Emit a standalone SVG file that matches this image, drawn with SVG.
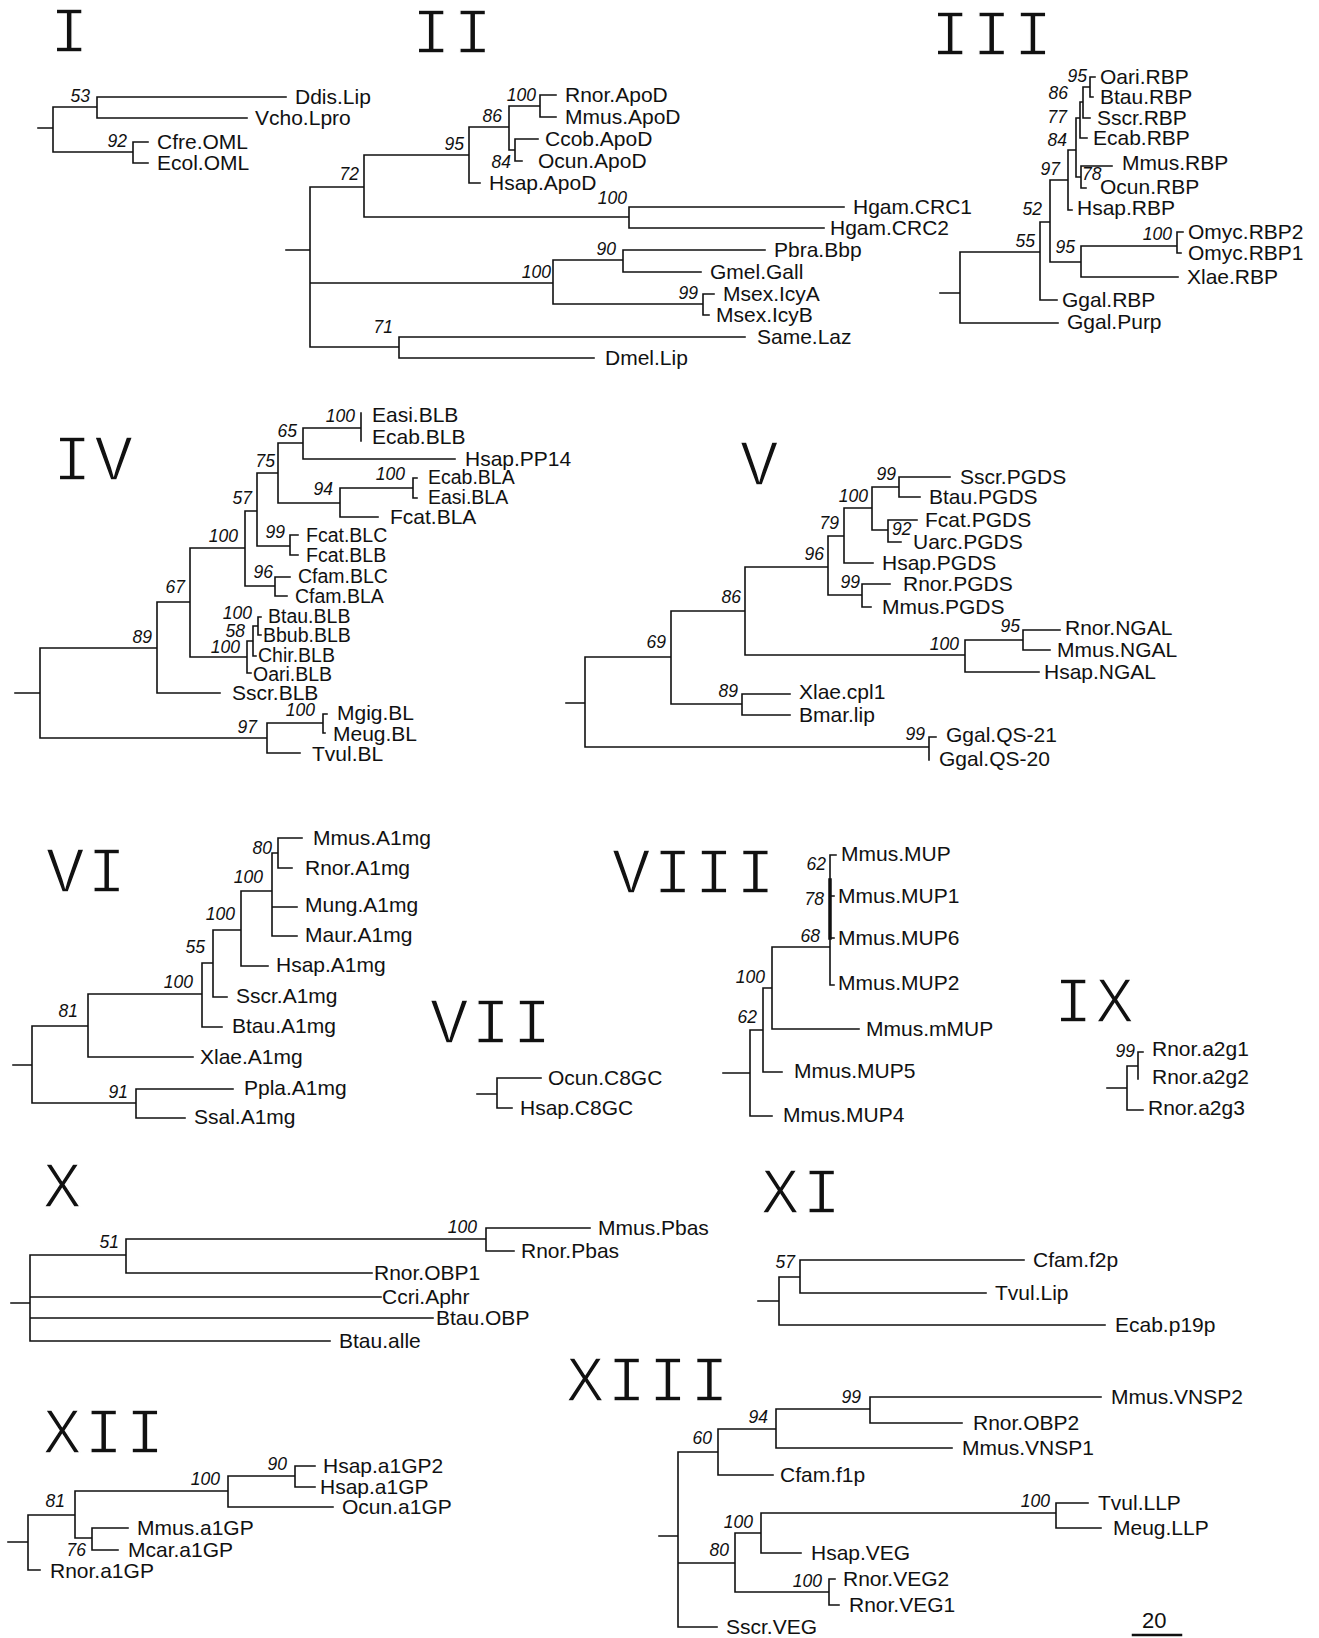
<svg xmlns="http://www.w3.org/2000/svg" width="1319" height="1638" viewBox="0 0 1319 1638">
<style>
.e{fill:none;stroke:#111;stroke-width:1.6;stroke-linecap:square}
.t{font-family:"Liberation Sans",Arial,sans-serif;font-size:21px;fill:#111}
.s{font-size:19.5px}
.b{font-family:"Liberation Sans",Arial,sans-serif;font-size:17.5px;font-style:italic;fill:#111;text-anchor:end}
.n{font-family:"Liberation Mono","Courier New",monospace;font-size:64px;fill:#111;letter-spacing:3px;stroke:#fff;stroke-width:1.4}
</style>
<rect width="1319" height="1638" fill="#fff"/>

<!-- Panel I -->
<g id="panel-I">
<text class="n" x="50" y="52">I</text>
<g id="I-connectors"><path class="e" d="M38 128H53M53 107V152M53 107H97M97 97V118M97 97H286M97 118H247M53 152H133M133 142V163M133 142H148M133 163H148"/></g>
<g id="I-Ddis.Lip"><text class="t" x="295" y="104">Ddis.Lip</text></g>
<g id="I-Vcho.Lpro"><text class="t" x="255" y="125">Vcho.Lpro</text></g>
<g id="I-Cfre.OML"><text class="t" x="157" y="149">Cfre.OML</text></g>
<g id="I-Ecol.OML"><text class="t" x="157" y="170">Ecol.OML</text></g>
<g id="I-support"><text class="b" x="90" y="102">53</text><text class="b" x="127" y="147">92</text></g>
</g>

<!-- Panel II -->
<g id="panel-II">
<text class="n" x="412" y="53">II</text>
<g id="II-connectors"><path class="e" d="M286 250H310M310 187V347M310 187H364M364 155V217M364 155H469M469 127V183M469 127H509M509 106V150M509 106H540M540 95V117M540 95H556M540 117H556M509 150H515M515 139V161M515 139H538M515 161H522M469 183H480M364 217H629M629 207V228M629 207H844M629 228H824M310 283H553M553 260V304M553 260H623M623 250V272M623 250H765M623 272H701M553 304H703M703 294V315M703 294H714M703 315H709M310 347H399M399 337V358M399 337H745M399 358H594"/></g>
<g id="II-Rnor.ApoD"><text class="t" x="565" y="102">Rnor.ApoD</text></g>
<g id="II-Mmus.ApoD"><text class="t" x="565" y="124">Mmus.ApoD</text></g>
<g id="II-Ccob.ApoD"><text class="t" x="545" y="146">Ccob.ApoD</text></g>
<g id="II-Ocun.ApoD"><text class="t" x="538" y="168">Ocun.ApoD</text></g>
<g id="II-Hsap.ApoD"><text class="t" x="489" y="190">Hsap.ApoD</text></g>
<g id="II-Hgam.CRC1"><text class="t" x="853" y="214">Hgam.CRC1</text></g>
<g id="II-Hgam.CRC2"><text class="t" x="830" y="235">Hgam.CRC2</text></g>
<g id="II-Pbra.Bbp"><text class="t" x="774" y="257">Pbra.Bbp</text></g>
<g id="II-Gmel.Gall"><text class="t" x="710" y="279">Gmel.Gall</text></g>
<g id="II-Msex.IcyA"><text class="t" x="723" y="301">Msex.IcyA</text></g>
<g id="II-Msex.IcyB"><text class="t" x="716" y="322">Msex.IcyB</text></g>
<g id="II-Same.Laz"><text class="t" x="757" y="344">Same.Laz</text></g>
<g id="II-Dmel.Lip"><text class="t" x="605" y="365">Dmel.Lip</text></g>
<g id="II-support">
<text class="b" x="536" y="101">100</text><text class="b" x="502" y="122">86</text><text class="b" x="464" y="150">95</text><text class="b" x="511" y="168">84</text><text class="b" x="359" y="180">72</text><text class="b" x="627" y="204">100</text><text class="b" x="616" y="255">90</text><text class="b" x="551" y="278">100</text><text class="b" x="698" y="299">99</text><text class="b" x="393" y="333">71</text>
</g>
</g>

<!-- Panel III -->
<g id="panel-III">
<text class="n" x="931" y="55">III</text>
<g id="III-connectors"><path class="e" d="M940 293H960M960 252V323M960 323H1058M960 252H1040M1040 222V300M1040 300H1057M1040 222H1050M1050 180V262M1050 180H1068M1068 150V210M1068 210H1072M1068 150H1076M1076 118V177M1076 177H1081M1081 166V188M1081 166H1112M1081 188H1086M1076 118H1080M1080 102V138M1080 138H1087M1080 102H1083M1083 87V118M1083 118H1090M1083 87H1090M1090 77V97M1090 77H1095M1090 97H1093M1050 262H1081M1081 246V277M1081 246H1177M1177 232V253M1177 232H1183M1177 253H1181M1081 277H1178"/></g>
<g id="III-Oari.RBP"><text class="t" x="1100" y="84">Oari.RBP</text></g>
<g id="III-Btau.RBP"><text class="t" x="1100" y="104">Btau.RBP</text></g>
<g id="III-Sscr.RBP"><text class="t" x="1097" y="125">Sscr.RBP</text></g>
<g id="III-Ecab.RBP"><text class="t" x="1093" y="145">Ecab.RBP</text></g>
<g id="III-Mmus.RBP"><text class="t" x="1122" y="170">Mmus.RBP</text></g>
<g id="III-Ocun.RBP"><text class="t" x="1100" y="194">Ocun.RBP</text></g>
<g id="III-Hsap.RBP"><text class="t" x="1077" y="215">Hsap.RBP</text></g>
<g id="III-Omyc.RBP2"><text class="t" x="1188" y="239">Omyc.RBP2</text></g>
<g id="III-Omyc.RBP1"><text class="t" x="1188" y="260">Omyc.RBP1</text></g>
<g id="III-Xlae.RBP"><text class="t" x="1187" y="284">Xlae.RBP</text></g>
<g id="III-Ggal.RBP"><text class="t" x="1062" y="307">Ggal.RBP</text></g>
<g id="III-Ggal.Purp"><text class="t" x="1067" y="329">Ggal.Purp</text></g>
<g id="III-support">
<text class="b" x="1087" y="82">95</text><text class="b" x="1068" y="99">86</text><text class="b" x="1067" y="123">77</text><text class="b" x="1067" y="146">84</text><text class="b" x="1060" y="175">97</text><text class="b" x="1082" y="180" style="text-anchor:start">78</text><text class="b" x="1042" y="215">52</text><text class="b" x="1035" y="247">55</text><text class="b" x="1075" y="253">95</text><text class="b" x="1172" y="240">100</text>
</g>
</g>

<!-- Panel IV -->
<g id="panel-IV">
<text class="n" x="53" y="480">IV</text>
<g id="IV-connectors"><path class="e" d="M15 693H40M40 648V738M40 648H157M157 602V693M157 693H220M157 602H190M190 548V657M190 548H245M245 511V586M245 511H257M257 473V546M257 473H278M278 443V503M278 443H303M303 428V459M303 428H361M361 413V441M303 459H455M278 503H340M340 488V517M340 488H413M413 478V498M413 478H417M413 498H417M340 517H378M257 546H290M290 535V555M290 535H298M290 555H298M245 586H275M275 577V596M275 577H290M275 596H287M190 657H247M247 641V673M247 673H251M247 641H253M253 626V656M253 656H256M253 626H258M258 617V635M258 617H261M258 635H261M40 738H267M267 723V753M267 723H323M323 714V733M323 714H327M323 733H325M267 753H300"/></g>
<g id="IV-Easi.BLB"><text class="t" x="372" y="422">Easi.BLB</text></g>
<g id="IV-Ecab.BLB"><text class="t" x="372" y="444">Ecab.BLB</text></g>
<g id="IV-Hsap.PP14"><text class="t" x="465" y="466">Hsap.PP14</text></g>
<g id="IV-Ecab.BLA"><text class="t s" x="428" y="484">Ecab.BLA</text></g>
<g id="IV-Easi.BLA"><text class="t s" x="428" y="504">Easi.BLA</text></g>
<g id="IV-Fcat.BLA"><text class="t" x="390" y="524">Fcat.BLA</text></g>
<g id="IV-Fcat.BLC"><text class="t s" x="306" y="542">Fcat.BLC</text></g>
<g id="IV-Fcat.BLB"><text class="t s" x="306" y="562">Fcat.BLB</text></g>
<g id="IV-Cfam.BLC"><text class="t s" x="298" y="583">Cfam.BLC</text></g>
<g id="IV-Cfam.BLA"><text class="t s" x="295" y="603">Cfam.BLA</text></g>
<g id="IV-Btau.BLB"><text class="t s" x="268" y="623">Btau.BLB</text></g>
<g id="IV-Bbub.BLB"><text class="t s" x="263" y="642">Bbub.BLB</text></g>
<g id="IV-Chir.BLB"><text class="t s" x="258" y="662">Chir.BLB</text></g>
<g id="IV-Oari.BLB"><text class="t s" x="253" y="681">Oari.BLB</text></g>
<g id="IV-Sscr.BLB"><text class="t" x="232" y="700">Sscr.BLB</text></g>
<g id="IV-Mgig.BL"><text class="t" x="337" y="720">Mgig.BL</text></g>
<g id="IV-Meug.BL"><text class="t" x="333" y="741">Meug.BL</text></g>
<g id="IV-Tvul.BL"><text class="t" x="312" y="761">Tvul.BL</text></g>
<g id="IV-support">
<text class="b" x="355" y="422">100</text><text class="b" x="297" y="437">65</text><text class="b" x="275" y="467">75</text><text class="b" x="405" y="480">100</text><text class="b" x="333" y="495">94</text><text class="b" x="252" y="504">57</text><text class="b" x="238" y="542">100</text><text class="b" x="285" y="538">99</text><text class="b" x="273" y="578">96</text><text class="b" x="185" y="593">67</text><text class="b" x="252" y="619">100</text><text class="b" x="245" y="637">58</text><text class="b" x="240" y="653">100</text><text class="b" x="152" y="643">89</text><text class="b" x="315" y="716">100</text><text class="b" x="257" y="733">97</text>
</g>
</g>

<!-- Panel V -->
<g id="panel-V">
<text class="n" x="740" y="485">V</text>
<g id="V-connectors"><path class="e" d="M566 703H585M585 657V747M585 657H671M671 611V704M671 611H745M745 567V655M745 567H828M828 536V595M828 536H844M844 508V563M844 508H872M872 487V530M872 487H899M899 477V497M899 477H950M899 497H920M872 530H888M888 520V542M888 520H917M888 542H901M844 563H873M828 595H862M862 584V607M862 584H890M862 607H871M745 655H965M965 640V672M965 640H1023M1023 630V650M1023 630H1060M1023 650H1050M965 672H1039M671 704H742M742 694V715M742 694H790M742 715H790M585 747H929M929 737V760M929 737H936"/></g>
<g id="V-Sscr.PGDS"><text class="t" x="960" y="484">Sscr.PGDS</text></g>
<g id="V-Btau.PGDS"><text class="t" x="929" y="504">Btau.PGDS</text></g>
<g id="V-Fcat.PGDS"><text class="t" x="925" y="527">Fcat.PGDS</text></g>
<g id="V-Uarc.PGDS"><text class="t" x="913" y="549">Uarc.PGDS</text></g>
<g id="V-Hsap.PGDS"><text class="t" x="882" y="570">Hsap.PGDS</text></g>
<g id="V-Rnor.PGDS"><text class="t" x="903" y="591">Rnor.PGDS</text></g>
<g id="V-Mmus.PGDS"><text class="t" x="882" y="614">Mmus.PGDS</text></g>
<g id="V-Rnor.NGAL"><text class="t" x="1065" y="635">Rnor.NGAL</text></g>
<g id="V-Mmus.NGAL"><text class="t" x="1057" y="657">Mmus.NGAL</text></g>
<g id="V-Hsap.NGAL"><text class="t" x="1044" y="679">Hsap.NGAL</text></g>
<g id="V-Xlae.cpl1"><text class="t" x="799" y="699">Xlae.cpl1</text></g>
<g id="V-Bmar.lip"><text class="t" x="799" y="722">Bmar.lip</text></g>
<g id="V-Ggal.QS-21"><text class="t" x="946" y="742">Ggal.QS-21</text></g>
<g id="V-Ggal.QS-20"><text class="t" x="939" y="766">Ggal.QS-20</text></g>
<g id="V-support">
<text class="b" x="896" y="480">99</text><text class="b" x="868" y="502">100</text><text class="b" x="892" y="535" style="text-anchor:start">92</text><text class="b" x="839" y="529">79</text><text class="b" x="824" y="560">96</text><text class="b" x="860" y="588">99</text><text class="b" x="741" y="603">86</text><text class="b" x="959" y="650">100</text><text class="b" x="1020" y="632">95</text><text class="b" x="666" y="648">69</text><text class="b" x="738" y="697">89</text><text class="b" x="925" y="740">99</text>
</g>
</g>

<!-- Panel VI -->
<g id="panel-VI">
<text class="n" x="46" y="892">VI</text>
<g id="VI-connectors"><path class="e" d="M13 1065H32M32 1026V1103M32 1026H88M88 994V1057M88 1057H193M88 994H202M202 963V1027M202 1027H222M202 963H213M213 930V997M213 997H227M213 930H241M241 891V966M241 966H268M241 891H272M272 853V936M272 907H297M272 936H297M272 853H278M278 838V868M278 838H302M278 868H292M32 1103H136M136 1089V1118M136 1089H233M136 1118H185"/></g>
<g id="VI-Mmus.A1mg"><text class="t" x="313" y="845">Mmus.A1mg</text></g>
<g id="VI-Rnor.A1mg"><text class="t" x="305" y="875">Rnor.A1mg</text></g>
<g id="VI-Mung.A1mg"><text class="t" x="305" y="912">Mung.A1mg</text></g>
<g id="VI-Maur.A1mg"><text class="t" x="305" y="942">Maur.A1mg</text></g>
<g id="VI-Hsap.A1mg"><text class="t" x="276" y="972">Hsap.A1mg</text></g>
<g id="VI-Sscr.A1mg"><text class="t" x="236" y="1003">Sscr.A1mg</text></g>
<g id="VI-Btau.A1mg"><text class="t" x="232" y="1033">Btau.A1mg</text></g>
<g id="VI-Xlae.A1mg"><text class="t" x="200" y="1064">Xlae.A1mg</text></g>
<g id="VI-Ppla.A1mg"><text class="t" x="244" y="1095">Ppla.A1mg</text></g>
<g id="VI-Ssal.A1mg"><text class="t" x="194" y="1124">Ssal.A1mg</text></g>
<g id="VI-support">
<text class="b" x="272" y="854">80</text><text class="b" x="263" y="883">100</text><text class="b" x="235" y="920">100</text><text class="b" x="205" y="953">55</text><text class="b" x="193" y="988">100</text><text class="b" x="78" y="1017">81</text><text class="b" x="128" y="1098">91</text>
</g>
</g>

<!-- Panel VII -->
<g id="panel-VII">
<text class="n" x="430" y="1043">VII</text>
<g id="VII-connectors"><path class="e" d="M477 1094H497M497 1078V1108M497 1078H541M497 1108H512"/></g>
<g id="VII-Ocun.C8GC"><text class="t" x="548" y="1085">Ocun.C8GC</text></g>
<g id="VII-Hsap.C8GC"><text class="t" x="520" y="1115">Hsap.C8GC</text></g>
</g>

<!-- Panel VIII -->
<g id="panel-VIII">
<text class="n" x="612" y="893">VIII</text>
<g id="VIII-connectors"><path class="e" d="M723 1073H750M750 1030V1116M750 1116H772M750 1030H763M763 988V1072M763 1072H782M763 988H772M772 947V1029M772 1029H859M772 947H830M830 855V985M830 855H836M830 896H834M830 938H834M830 985H834"/><path class="e" style="stroke-width:3.5" d="M830 880V938"/></g>
<g id="VIII-Mmus.MUP"><text class="t" x="841" y="861">Mmus.MUP</text></g>
<g id="VIII-Mmus.MUP1"><text class="t" x="838" y="903">Mmus.MUP1</text></g>
<g id="VIII-Mmus.MUP6"><text class="t" x="838" y="945">Mmus.MUP6</text></g>
<g id="VIII-Mmus.MUP2"><text class="t" x="838" y="990">Mmus.MUP2</text></g>
<g id="VIII-Mmus.mMUP"><text class="t" x="866" y="1036">Mmus.mMUP</text></g>
<g id="VIII-Mmus.MUP5"><text class="t" x="794" y="1078">Mmus.MUP5</text></g>
<g id="VIII-Mmus.MUP4"><text class="t" x="783" y="1122">Mmus.MUP4</text></g>
<g id="VIII-support">
<text class="b" x="826" y="870">62</text><text class="b" x="824" y="905">78</text><text class="b" x="820" y="942">68</text><text class="b" x="765" y="983">100</text><text class="b" x="757" y="1023">62</text>
</g>
</g>

<!-- Panel IX -->
<g id="panel-IX">
<text class="n" x="1054" y="1022">IX</text>
<g id="IX-connectors"><path class="e" d="M1107 1088H1127M1127 1066V1110M1127 1110H1143M1127 1066H1138M1138 1052V1079M1138 1052H1143"/></g>
<g id="IX-Rnor.a2g1"><text class="t" x="1152" y="1056">Rnor.a2g1</text></g>
<g id="IX-Rnor.a2g2"><text class="t" x="1152" y="1084">Rnor.a2g2</text></g>
<g id="IX-Rnor.a2g3"><text class="t" x="1148" y="1115">Rnor.a2g3</text></g>
<g id="IX-support"><text class="b" x="1135" y="1057">99</text></g>
</g>

<!-- Panel X -->
<g id="panel-X">
<text class="n" x="43" y="1207">X</text>
<g id="X-connectors"><path class="e" d="M11 1303H30M30 1255V1341M30 1255H126M126 1239V1273M126 1239H486M486 1228V1251M486 1228H590M486 1251H514M126 1273H372M30 1297H381M30 1318H433M30 1341H330"/></g>
<g id="X-Mmus.Pbas"><text class="t" x="598" y="1235">Mmus.Pbas</text></g>
<g id="X-Rnor.Pbas"><text class="t" x="521" y="1258">Rnor.Pbas</text></g>
<g id="X-Rnor.OBP1"><text class="t" x="374" y="1280">Rnor.OBP1</text></g>
<g id="X-Ccri.Aphr"><text class="t" x="382" y="1304">Ccri.Aphr</text></g>
<g id="X-Btau.OBP"><text class="t" x="436" y="1325">Btau.OBP</text></g>
<g id="X-Btau.alle"><text class="t" x="339" y="1348">Btau.alle</text></g>
<g id="X-support"><text class="b" x="477" y="1233">100</text><text class="b" x="119" y="1248">51</text></g>
</g>

<!-- Panel XI -->
<g id="panel-XI">
<text class="n" x="761" y="1213">XI</text>
<g id="XI-connectors"><path class="e" d="M758 1301H779M779 1277V1325M779 1277H800M800 1260V1293M800 1260H1024M800 1293H986M779 1325H1105"/></g>
<g id="XI-Cfam.f2p"><text class="t" x="1033" y="1267">Cfam.f2p</text></g>
<g id="XI-Tvul.Lip"><text class="t" x="995" y="1300">Tvul.Lip</text></g>
<g id="XI-Ecab.p19p"><text class="t" x="1115" y="1332">Ecab.p19p</text></g>
<g id="XI-support"><text class="b" x="795" y="1268">57</text></g>
</g>

<!-- Panel XII -->
<g id="panel-XII">
<text class="n" x="43" y="1453">XII</text>
<g id="XII-connectors"><path class="e" d="M8 1542H28M28 1515V1570M28 1570H40M28 1515H75M75 1491V1538M75 1491H228M228 1476V1507M228 1476H295M295 1466V1487M295 1466H315M295 1487H315M228 1507H333M75 1538H92M92 1528V1550M92 1528H128M92 1550H118"/></g>
<g id="XII-Hsap.a1GP2"><text class="t" x="323" y="1473">Hsap.a1GP2</text></g>
<g id="XII-Hsap.a1GP"><text class="t" x="320" y="1494">Hsap.a1GP</text></g>
<g id="XII-Ocun.a1GP"><text class="t" x="342" y="1514">Ocun.a1GP</text></g>
<g id="XII-Mmus.a1GP"><text class="t" x="137" y="1535">Mmus.a1GP</text></g>
<g id="XII-Mcar.a1GP"><text class="t" x="128" y="1557">Mcar.a1GP</text></g>
<g id="XII-Rnor.a1GP"><text class="t" x="50" y="1578">Rnor.a1GP</text></g>
<g id="XII-support"><text class="b" x="287" y="1470">90</text><text class="b" x="220" y="1485">100</text><text class="b" x="65" y="1507">81</text><text class="b" x="86" y="1556">76</text></g>
</g>

<!-- Panel XIII -->
<g id="panel-XIII">
<text class="n" x="566" y="1401">XIII</text>
<g id="XIII-connectors"><path class="e" d="M659 1536H678M678 1452V1627M678 1627H717M678 1452H718M718 1429V1475M718 1475H773M718 1429H776M776 1409V1448M776 1448H952M776 1409H870M870 1397V1423M870 1397H1101M870 1423H962M678 1563H735M735 1533V1592M735 1533H761M761 1513V1553M761 1553H801M761 1513H1056M1056 1503V1528M1056 1503H1088M1056 1528H1101M735 1592H829M829 1579V1605M829 1579H835M829 1605H839"/></g>
<g id="XIII-Mmus.VNSP2"><text class="t" x="1111" y="1404">Mmus.VNSP2</text></g>
<g id="XIII-Rnor.OBP2"><text class="t" x="973" y="1430">Rnor.OBP2</text></g>
<g id="XIII-Mmus.VNSP1"><text class="t" x="962" y="1455">Mmus.VNSP1</text></g>
<g id="XIII-Cfam.f1p"><text class="t" x="780" y="1482">Cfam.f1p</text></g>
<g id="XIII-Tvul.LLP"><text class="t" x="1098" y="1510">Tvul.LLP</text></g>
<g id="XIII-Meug.LLP"><text class="t" x="1113" y="1535">Meug.LLP</text></g>
<g id="XIII-Hsap.VEG"><text class="t" x="811" y="1560">Hsap.VEG</text></g>
<g id="XIII-Rnor.VEG2"><text class="t" x="843" y="1586">Rnor.VEG2</text></g>
<g id="XIII-Rnor.VEG1"><text class="t" x="849" y="1612">Rnor.VEG1</text></g>
<g id="XIII-Sscr.VEG"><text class="t" x="726" y="1634">Sscr.VEG</text></g>
<g id="XIII-support"><text class="b" x="861" y="1403">99</text><text class="b" x="768" y="1423">94</text><text class="b" x="712" y="1444">60</text><text class="b" x="1050" y="1507">100</text><text class="b" x="753" y="1528">100</text><text class="b" x="729" y="1556">80</text><text class="b" x="822" y="1587">100</text></g>
</g>

<!-- Scale bar -->
<g id="scale-bar">
<text class="t" x="1142" y="1628" style="font-size:22px">20</text>
<path class="e" style="stroke-width:2.5" d="M1133 1635H1181"/>
</g>
</svg>
